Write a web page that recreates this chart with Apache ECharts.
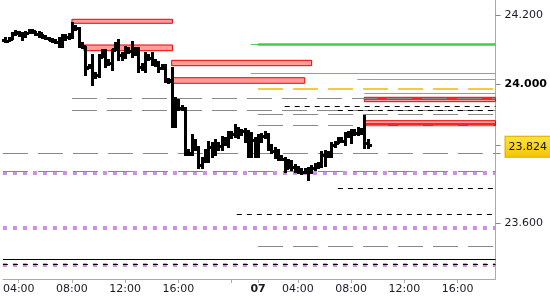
<!DOCTYPE html>
<html><head><meta charset="utf-8">
<script src="https://cdn.jsdelivr.net/npm/echarts@6/dist/echarts.min.js"></script>
<style>html,body{margin:0;padding:0;background:#fff}#c{width:550px;height:300px}</style>
</head><body><div id="c"></div>
<script>
// x values are trading hours: day 1 clock hours, day 2 = clock hour + 21 (session closed 22:00-01:00)
const barStart = 3.0;   // 03:00 day 1
const barStep = 0.25;   // 15-minute bars
const opens  = [24.128,24.125,24.134,24.145,24.148,24.142,24.139,24.148,24.154,24.151,24.145,24.142,24.137,24.134,24.128,24.125,24.122,24.128,24.137,24.137,24.139,24.163,24.163,24.113,24.108,24.050,24.053,24.021,24.027,24.079,24.090,24.062,24.062,24.102,24.113,24.085,24.079,24.099,24.096,24.099,24.093,24.050,24.047,24.079,24.076,24.064,24.059,24.047,24.050,24.013,24.013,23.886,23.955,23.932,23.932,23.805,23.802,23.834,23.819,23.767,23.782,23.796,23.819,23.811,23.831,23.822,23.840,23.834,23.854,23.857,23.874,23.860,23.865,23.860,23.796,23.840,23.796,23.848,23.851,23.857,23.819,23.808,23.805,23.790,23.785,23.759,23.776,23.762,23.753,23.750,23.747,23.750,23.747,23.759,23.765,23.767,23.796,23.799,23.796,23.825,23.831,23.840,23.837,23.854,23.857,23.863,23.860,23.865,23.863,23.831];
const closes = [24.125,24.131,24.145,24.151,24.142,24.139,24.148,24.154,24.154,24.145,24.148,24.137,24.134,24.128,24.125,24.122,24.128,24.137,24.137,24.139,24.165,24.163,24.113,24.111,24.047,24.053,24.021,24.027,24.079,24.090,24.062,24.062,24.099,24.113,24.085,24.079,24.099,24.096,24.099,24.093,24.050,24.047,24.079,24.076,24.064,24.059,24.047,24.050,24.013,24.010,23.886,23.955,23.932,23.932,23.805,23.799,23.840,23.819,23.767,23.782,23.796,23.819,23.811,23.831,23.822,23.840,23.834,23.854,23.857,23.874,23.860,23.865,23.860,23.796,23.840,23.796,23.848,23.851,23.857,23.819,23.808,23.805,23.790,23.785,23.759,23.776,23.762,23.753,23.750,23.747,23.750,23.747,23.759,23.765,23.767,23.796,23.802,23.796,23.825,23.831,23.840,23.837,23.854,23.857,23.863,23.860,23.865,23.863,23.831,23.824];
const lows   = [24.122,24.125,24.131,24.142,24.139,24.128,24.137,24.148,24.148,24.142,24.137,24.134,24.131,24.128,24.122,24.119,24.108,24.108,24.128,24.131,24.134,24.157,24.108,24.105,24.027,24.047,23.998,24.018,24.021,24.079,24.050,24.056,24.041,24.099,24.070,24.070,24.076,24.090,24.079,24.085,24.036,24.041,24.036,24.070,24.056,24.053,24.036,24.044,24.007,24.004,23.877,23.877,23.926,23.926,23.796,23.796,23.796,23.811,23.759,23.759,23.776,23.776,23.790,23.796,23.811,23.811,23.825,23.819,23.845,23.848,23.845,23.854,23.834,23.790,23.790,23.790,23.790,23.834,23.845,23.811,23.802,23.788,23.782,23.782,23.747,23.759,23.753,23.747,23.744,23.741,23.744,23.724,23.744,23.753,23.759,23.762,23.765,23.790,23.790,23.819,23.831,23.834,23.825,23.848,23.831,23.854,23.854,23.857,23.816,23.816];
const highs  = [24.134,24.134,24.148,24.154,24.151,24.148,24.151,24.157,24.157,24.151,24.151,24.142,24.139,24.134,24.131,24.128,24.134,24.142,24.142,24.145,24.177,24.168,24.163,24.119,24.108,24.056,24.085,24.033,24.085,24.099,24.099,24.070,24.099,24.119,24.128,24.090,24.108,24.105,24.122,24.105,24.105,24.059,24.090,24.085,24.090,24.070,24.064,24.056,24.056,24.015,24.047,23.961,23.955,23.938,23.932,23.811,23.854,23.840,23.819,23.788,23.811,23.834,23.831,23.840,23.831,23.848,23.845,23.863,23.863,23.883,23.874,23.868,23.871,23.865,23.860,23.845,23.854,23.857,23.863,23.857,23.825,23.816,23.811,23.793,23.788,23.782,23.779,23.767,23.762,23.756,23.756,23.759,23.765,23.770,23.773,23.805,23.808,23.805,23.831,23.834,23.845,23.845,23.860,23.863,23.868,23.868,23.874,23.871,23.909,23.840];
const lastPrice = 23.824;

// supply/demand zones
const zoneFrom = [8.0, 8.9, 15.5, 15.5, 29.99, 29.99];
const zoneTo   = [15.56, 15.56, 26.03, 25.51, 39.86, 39.86];
const zoneHigh = [24.1876, 24.1135, 24.0693, 24.0191, 23.9626, 23.8951];
const zoneLow  = [24.1761, 24.0970, 24.0538, 24.0030, 23.9500, 23.8807];

// horizontal levels [value], start time
const greenThickLevels = [24.1149]; const greenThickFrom = [22.0];
const greenThinLevels  = [24.1160, 24.0327, 24.0145, 23.9741]; const greenThinFrom = [21.45, 21.45, 29.47, 29.99];
const orangeLevels = [23.9886]; const orangeFrom = [22.0];
const grayLevels = [23.9597, 23.9260, 23.9136, 23.8818, 23.8011, 23.7480, 23.5316];
const grayFrom   = [8.0, 8.0, 22.0, 22.0, 2.81, 2.81, 22.0];
const blackDashLevels = [23.9366, 23.9250, 23.7001, 23.6260, 23.4817];
const blackDashFrom   = [24.0, 28.0, 28.0, 20.4, 2.81];
const blackSolidLevels = [23.4962]; const blackSolidFrom = [2.81];
const purpleLevels = [23.7451, 23.5864, 23.4797]; const purpleFrom = [2.81, 2.81, 2.81];
const redLevels = [23.9590, 23.8856]; const redFrom = [29.99, 29.99];

const xTickValues  = [4, 8, 12, 16, 20, 22, 25, 29, 33, 37];
const xLabelValues = [4, 8, 12, 16, 22, 25, 29, 33, 37];
const xLabelTexts  = ['04:00','08:00','12:00','16:00','07','04:00','08:00','12:00','16:00'];
const yTickValues  = [23.6, 23.8, 24.0, 24.2];

const X_MIN = 2.81, X_MAX = 39.86;
const FONT = 'DejaVu Sans';

function segs(levels, from) {
  return levels.map((v, i) => [{coord: [from[i], v]}, {coord: [X_MAX, v]}]);
}
function lineSeries(levels, from, style, z) {
  return {
    type: 'line', data: [], silent: true,
    markLine: {silent: true, symbol: 'none', z: z, label: {show: false}, animation: false,
      lineStyle: style, emphasis: {disabled: true}, data: segs(levels, from)}
  };
}

const bars = opens.map((o, i) => [barStart + i * barStep, o, closes[i], lows[i], highs[i]]);

function renderOHLC(params, api) {
  const t = api.value(0);
  const pO = api.coord([t, api.value(1)]);
  const pC = api.coord([t, api.value(2)]);
  const pL = api.coord([t, api.value(3)]);
  const pH = api.coord([t, api.value(4)]);
  const x = Math.round(pO[0]);
  const yH = Math.round(pH[1]), yL = Math.round(pL[1]);
  const yO = Math.round(pO[1]), yC = Math.round(pC[1]);
  const st = {fill: '#000'};
  return {type: 'group', children: [
    {type: 'rect', shape: {x: x - 1, y: yH - 1, width: 3, height: Math.max(3, yL - yH + 2)}, style: st},
    {type: 'rect', shape: {x: x - 3, y: yO - 1, width: 2, height: 3}, style: st},
    {type: 'rect', shape: {x: x + 2, y: yC - 1, width: 2, height: 3}, style: st}
  ]};
}

const chart = echarts.init(document.getElementById('c'), null, {renderer: 'canvas'});
chart.setOption({
  animation: false,
  backgroundColor: '#fff',
  grid: {left: 0, right: 51, top: 0, bottom: 21, containLabel: false},
  xAxis: {
    type: 'value', min: X_MIN, max: X_MAX,
    splitLine: {show: false},
    axisLine: {show: true, lineStyle: {color: '#aaa'}},
    axisTick: {show: true, length: 4, customValues: xTickValues, lineStyle: {color: '#aaa'}},
    axisLabel: {
      customValues: xLabelValues, margin: 5,
      fontFamily: FONT, fontSize: 11, color: '#1a1a2a',
      formatter: function (v) {
        const k = xLabelValues.findIndex(a => Math.abs(a - v) < 1e-6);
        if (k < 0) return '';
        return xLabelTexts[k] === '07' ? '{b|07}' : xLabelTexts[k];
      },
      rich: {b: {fontFamily: FONT, fontSize: 11, fontWeight: 'bold', color: '#1a1a2a'}}
    }
  },
  yAxis: {
    type: 'value', position: 'right', min: 23.43847, max: 24.24327, scale: true,
    splitLine: {show: false},
    axisLine: {show: true, lineStyle: {color: '#aaa'}},
    axisTick: {show: true, length: 5, customValues: yTickValues.concat([lastPrice]), lineStyle: {color: '#888'}},
    axisLabel: {
      customValues: yTickValues, margin: 9,
      fontFamily: FONT, fontSize: 11, color: '#1a1a2a',
      formatter: function (v) {
        const s = v.toFixed(3);
        return Math.abs(v - 24.0) < 1e-6 ? '{b|' + s + '}' : s;
      },
      rich: {b: {fontFamily: FONT, fontSize: 11, fontWeight: 'bold', color: '#000'}}
    }
  },
  series: [
    {
      type: 'line', data: [], silent: true,
      markArea: {silent: true, z: 1, itemStyle: {color: '#ff9c9c', borderColor: '#ee0000', borderWidth: 1},
        data: zoneFrom.map((f, i) => [{coord: [f, zoneHigh[i]]}, {coord: [zoneTo[i], zoneLow[i]]}])}
    },
    lineSeries(redLevels, redFrom, {color: '#ee0000', width: 1.5, type: 'solid'}, 2),
    lineSeries(purpleLevels, purpleFrom, {color: '#cc8ee6', width: 4, type: [4, 6]}, 3),
    lineSeries(grayLevels, grayFrom, {color: '#888', width: 1, type: [25, 10]}, 3),
    lineSeries(blackDashLevels, blackDashFrom, {color: '#000', width: 1, type: [5, 5]}, 3),
    lineSeries(blackSolidLevels, blackSolidFrom, {color: '#000', width: 1, type: 'solid'}, 3),
    lineSeries(orangeLevels, orangeFrom, {color: '#f5b800', width: 1.5, type: [25, 10]}, 3),
    lineSeries(greenThinLevels, greenThinFrom, {color: '#55cc55', width: 1, type: 'solid'}, 3),
    lineSeries(greenThickLevels, greenThickFrom, {color: '#44cc44', width: 2.5, type: 'solid'}, 3),
    {
      type: 'custom', z: 10, renderItem: renderOHLC, data: bars,
      encode: {x: 0, y: [1, 2, 3, 4]}, silent: true
    },
    {
      type: 'line', data: [], silent: true,
      markLine: {silent: true, symbol: 'none', z: 12, animation: false,
        lineStyle: {color: 'rgba(0,0,0,0)', width: 0},
        label: {show: true, position: 'end', distance: 10,
          formatter: lastPrice.toFixed(3), fontFamily: FONT, fontSize: 11, color: '#111',
          lineHeight: 13, padding: [4, 6, 3, 3],
          backgroundColor: {type: 'linear', x: 0, y: 0, x2: 0, y2: 1,
            colorStops: [{offset: 0, color: '#ffe640'}, {offset: 1, color: '#f3c400'}]},
          borderColor: '#d8a800', borderWidth: 1},
        data: [{yAxis: lastPrice}]}
    }
  ]
});
</script></body></html>
